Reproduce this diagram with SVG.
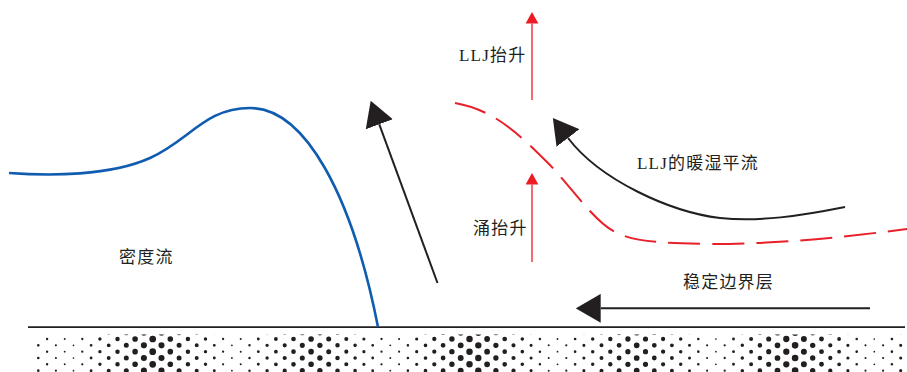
<svg xmlns="http://www.w3.org/2000/svg" width="907" height="372" viewBox="0 0 907 372">
<style>
  .lbl{font-family:"Liberation Serif","Noto Sans CJK SC",serif;font-size:17px;fill:#231f20;letter-spacing:1.2px}
  .blk{fill:none;stroke:#231f20;stroke-width:2}
  .red{fill:none;stroke:#ec3a44;stroke-width:1.5}
  .dash{fill:none;stroke:#e8202a;stroke-width:2;stroke-dasharray:32 12}
  .blue{fill:none;stroke:#105cb0;stroke-width:2.6}
  .ground{fill:none;stroke:#231f20;stroke-width:1.8}
  .dots path{fill:none;stroke:#231f20;stroke-linecap:round;stroke-dasharray:0.01 12.64}
</style>
<defs>
  <marker id="headBlack" markerUnits="userSpaceOnUse" viewBox="0 0 25 29" markerWidth="25" markerHeight="29" refX="0" refY="14.4" orient="auto">
    <path d="M0,0 L25,14.4 L0,28.8 z" fill="#231f20"/>
  </marker>
  <marker id="headRed" markerUnits="userSpaceOnUse" viewBox="0 0 12 13" markerWidth="12" markerHeight="13" refX="0" refY="6.4" orient="auto">
    <path d="M0,0 L11.5,6.4 L0,12.8 z" fill="#ed1c24"/>
  </marker>
  <clipPath id="soilClip"><rect x="30" y="334.5" width="880" height="40"/></clipPath>
</defs>

<!-- ground surface and stippled soil -->
<g id="ground">
  <path class="ground" d="M28,327.2 H905"/>
  <g class="dots" clip-path="url(#soilClip)">
    <path d="M38.3,332.7V380" stroke-width="2.6"/>
    <path d="M47.1,339V380" stroke-width="2.4"/>
    <path d="M55.9,332.7V380" stroke-width="2.1"/>
    <path d="M64.7,339V380" stroke-width="1.9"/>
    <path d="M73.5,332.7V380" stroke-width="1.7"/>
    <path d="M82.3,339V380" stroke-width="2.3"/>
    <path d="M91.1,332.7V380" stroke-width="2.8"/>
    <path d="M99.9,339V380" stroke-width="3.4"/>
    <path d="M108.7,332.7V380" stroke-width="3.9"/>
    <path d="M117.5,339V380" stroke-width="4.5"/>
    <path d="M126.3,332.7V380" stroke-width="5.0"/>
    <path d="M135.1,339V380" stroke-width="5.6"/>
    <path d="M143.9,332.7V380" stroke-width="6.1"/>
    <path d="M152.7,339V380" stroke-width="6.7"/>
    <path d="M161.5,332.7V380" stroke-width="6.1"/>
    <path d="M170.3,339V380" stroke-width="5.6"/>
    <path d="M179.1,332.7V380" stroke-width="5.0"/>
    <path d="M187.9,339V380" stroke-width="4.5"/>
    <path d="M196.7,332.7V380" stroke-width="4.0"/>
    <path d="M205.5,339V380" stroke-width="3.4"/>
    <path d="M214.3,332.7V380" stroke-width="2.9"/>
    <path d="M223.1,339V380" stroke-width="2.3"/>
    <path d="M231.9,332.7V380" stroke-width="1.8"/>
    <path d="M240.7,339V380" stroke-width="2.0"/>
    <path d="M249.5,332.7V380" stroke-width="2.5"/>
    <path d="M258.3,339V380" stroke-width="2.9"/>
    <path d="M267.1,332.7V380" stroke-width="3.4"/>
    <path d="M275.9,339V380" stroke-width="3.8"/>
    <path d="M284.7,332.7V380" stroke-width="4.2"/>
    <path d="M293.5,339V380" stroke-width="4.7"/>
    <path d="M302.3,332.7V380" stroke-width="5.1"/>
    <path d="M311.1,339V380" stroke-width="5.6"/>
    <path d="M319.9,332.7V380" stroke-width="5.4"/>
    <path d="M328.7,339V380" stroke-width="5.0"/>
    <path d="M337.5,332.7V380" stroke-width="4.5"/>
    <path d="M346.3,339V380" stroke-width="4.1"/>
    <path d="M355.1,332.7V380" stroke-width="3.6"/>
    <path d="M363.9,339V380" stroke-width="3.2"/>
    <path d="M372.7,332.7V380" stroke-width="2.8"/>
    <path d="M381.5,339V380" stroke-width="2.3"/>
    <path d="M390.3,332.7V380" stroke-width="1.9"/>
    <path d="M399.1,339V380" stroke-width="2.1"/>
    <path d="M407.9,332.7V380" stroke-width="2.6"/>
    <path d="M416.7,339V380" stroke-width="3.2"/>
    <path d="M425.5,332.7V380" stroke-width="3.7"/>
    <path d="M434.3,339V380" stroke-width="4.3"/>
    <path d="M443.1,332.7V380" stroke-width="4.8"/>
    <path d="M451.9,339V380" stroke-width="5.4"/>
    <path d="M460.7,332.7V380" stroke-width="5.9"/>
    <path d="M469.5,339V380" stroke-width="6.5"/>
    <path d="M478.3,332.7V380" stroke-width="6.4"/>
    <path d="M487.1,339V380" stroke-width="5.8"/>
    <path d="M495.9,332.7V380" stroke-width="5.3"/>
    <path d="M504.7,339V380" stroke-width="4.7"/>
    <path d="M513.5,332.7V380" stroke-width="4.2"/>
    <path d="M522.3,339V380" stroke-width="3.6"/>
    <path d="M531.1,332.7V380" stroke-width="3.1"/>
    <path d="M539.9,339V380" stroke-width="2.5"/>
    <path d="M548.7,332.7V380" stroke-width="2.0"/>
    <path d="M557.5,339V380" stroke-width="1.8"/>
    <path d="M566.3,332.7V380" stroke-width="2.2"/>
    <path d="M575.1,339V380" stroke-width="2.7"/>
    <path d="M583.9,332.7V380" stroke-width="3.1"/>
    <path d="M592.7,339V380" stroke-width="3.5"/>
    <path d="M601.5,332.7V380" stroke-width="4.0"/>
    <path d="M610.3,339V380" stroke-width="4.4"/>
    <path d="M619.1,332.7V380" stroke-width="4.9"/>
    <path d="M627.9,339V380" stroke-width="5.3"/>
    <path d="M636.7,332.7V380" stroke-width="5.7"/>
    <path d="M645.5,339V380" stroke-width="5.2"/>
    <path d="M654.3,332.7V380" stroke-width="4.8"/>
    <path d="M663.1,339V380" stroke-width="4.3"/>
    <path d="M671.9,332.7V380" stroke-width="3.9"/>
    <path d="M680.7,339V380" stroke-width="3.5"/>
    <path d="M689.5,332.7V380" stroke-width="3.0"/>
    <path d="M698.3,339V380" stroke-width="2.6"/>
    <path d="M707.1,332.7V380" stroke-width="2.1"/>
    <path d="M715.9,339V380" stroke-width="1.7"/>
    <path d="M724.7,332.7V380" stroke-width="2.3"/>
    <path d="M733.5,339V380" stroke-width="2.9"/>
    <path d="M742.3,332.7V380" stroke-width="3.5"/>
    <path d="M751.1,339V380" stroke-width="4.0"/>
    <path d="M759.9,332.7V380" stroke-width="4.6"/>
    <path d="M768.7,339V380" stroke-width="5.1"/>
    <path d="M777.5,332.7V380" stroke-width="5.7"/>
    <path d="M786.3,339V380" stroke-width="6.3"/>
    <path d="M795.1,332.7V380" stroke-width="6.6"/>
    <path d="M803.9,339V380" stroke-width="6.0"/>
    <path d="M812.7,332.7V380" stroke-width="5.4"/>
    <path d="M821.5,339V380" stroke-width="4.9"/>
    <path d="M830.3,332.7V380" stroke-width="4.3"/>
    <path d="M839.1,339V380" stroke-width="3.8"/>
    <path d="M847.9,332.7V380" stroke-width="3.2"/>
    <path d="M856.7,339V380" stroke-width="2.6"/>
    <path d="M865.5,332.7V380" stroke-width="2.1"/>
    <path d="M874.3,339V380" stroke-width="1.7"/>
    <path d="M883.1,332.7V380" stroke-width="2.2"/>
    <path d="M891.9,339V380" stroke-width="2.6"/>
    <path d="M900.7,332.7V380" stroke-width="3.1"/>
  </g>
</g>

<!-- density current outline -->
<g id="density-current">
  <path class="blue" d="M9,173 C50,176 110,176 150,158 C190,140 205,108 250,108 C305,108 352,195 378,327"/>
  <text class="lbl" x="119" y="263">密度流</text>
</g>

<!-- inversion top of the stable layer -->
<g id="inversion">
  <path class="dash" d="M455,103 C495,110 520,135 550,165 C575,192 595,222 615,232 C635,242 660,243 710,244 C790,244 860,235 907,229"/>
</g>

<g id="connectors">
  <!-- rising air ahead of the gust front -->
  <path class="blk" d="M437.5,283 L379.3,124.3" marker-end="url(#headBlack)"/>
  <!-- warm moist advection by the LLJ -->
  <path class="blk" d="M845,207 C800,216 760,222 720,218 C670,212 600,180 568,138" marker-end="url(#headBlack)"/>
  <!-- stable boundary layer inflow -->
  <path class="blk" d="M870,308.3 H600.7" marker-end="url(#headBlack)"/>
  <!-- lifting arrows -->
  <path class="red" d="M532,100 V23.5" marker-end="url(#headRed)"/>
  <path class="red" d="M532,262 V184.5" marker-end="url(#headRed)"/>
</g>

<g id="labels">
  <text class="lbl" x="459" y="61">LLJ抬升</text>
  <text class="lbl" x="637" y="169">LLJ的暖湿平流</text>
  <text class="lbl" x="473" y="234">涌抬升</text>
  <text class="lbl" x="683" y="288">稳定边界层</text>
</g>
</svg>
